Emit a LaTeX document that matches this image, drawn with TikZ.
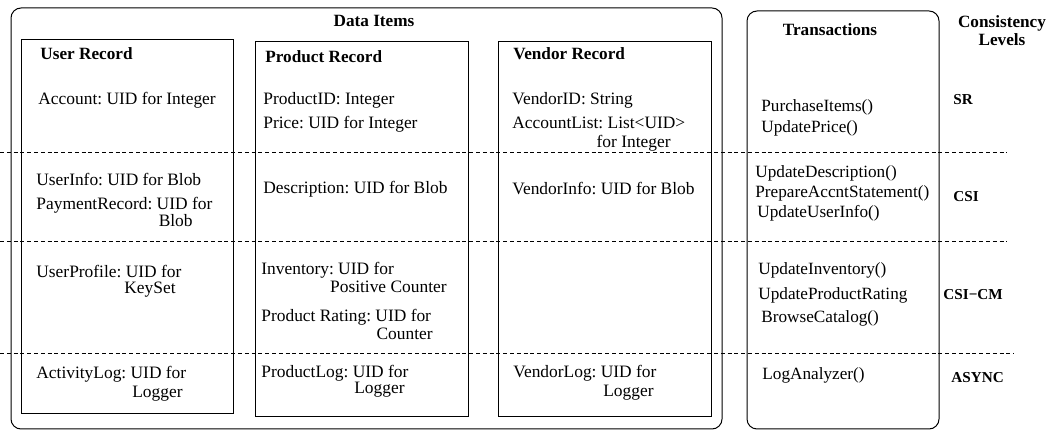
\documentclass[tikz,border=0pt]{standalone}
\usepackage{fontspec}
\setmainfont{Liberation Serif}
\usepackage{tikz}
\frenchspacing

\begin{document}
\begin{tikzpicture}[x=0.5pt,y=-0.5pt,
  item/.style={anchor=west,inner sep=0pt,font=\fontsize{8.7}{10}\selectfont},
  itemtail/.style={anchor=east,inner sep=0pt,font=\fontsize{8.7}{10}\selectfont},
  head/.style={anchor=west,inner sep=0pt,font=\fontsize{8.6}{10}\selectfont\bfseries},
  colhead/.style={inner sep=0pt,align=center,font=\fontsize{8.6}{9}\selectfont\bfseries},
  call/.style={anchor=west,inner sep=0pt,font=\fontsize{8.6}{10}\selectfont},
  level/.style={anchor=west,inner sep=0pt,font=\fontsize{7.6}{9}\selectfont\bfseries},
  layer/.style={dash pattern=on 2pt off 1.4pt,line width=0.4pt}]
\path[use as bounding box] (0,0) rectangle (1047,431);
% boxes
\draw[rounded corners=5pt,line width=0.5pt] (11,8) rectangle (722,429);
\draw[line width=0.5pt] (21,40) rectangle (233,414);
\draw[line width=0.5pt] (255,42) rectangle (468,417);
\draw[line width=0.5pt] (498,42) rectangle (711,417);
\draw[rounded corners=5pt,line width=0.5pt] (747,11) rectangle (939,429);
% level separators
\draw[layer] (0,152) -- (1007,152);
\draw[layer] (0,241) -- (1007,241);
\draw[layer] (0,353) -- (1014,353);
% headings
\node[colhead] (dataT) at (374,21) {Data Items};
\node[head] (userT) at (40,54) {User Record};
\node[head] (prodT) at (265,57) {Product Record};
\node[head] (vendT) at (513,54) {Vendor Record};
\node[colhead] (transT) at (830,30) {Transactions};
\node[colhead] (levelT) at (1002,31) {Consistency\\Levels};
% user record
\node[item] (acct) at (38,100) {Account: UID for Integer};
\node[item] (uinfo) at (36,180) {UserInfo: UID for Blob};
\node[item] (pay) at (36,205) {PaymentRecord: UID for};
\node[itemtail] (payB) at (193,221) {Blob};
\node[item] (uprof) at (36,272) {UserProfile: UID for};
\node[itemtail] (uprofB) at (176,290) {KeySet};
\node[item] (alog) at (36,374) {ActivityLog: UID for};
\node[itemtail] (alogB) at (183,394) {Logger};
% product record
\node[item] (pid) at (263,100) {ProductID: Integer};
\node[item] (price) at (263,124) {Price: UID for Integer};
\node[item] (pdesc) at (263,189) {Description: UID for Blob};
\node[item] (inv) at (261,270) {Inventory: UID for};
\node[itemtail] (invB) at (447,287) {Positive Counter};
\node[item] (prate) at (261,317) {Product Rating: UID for};
\node[itemtail] (prateB) at (433,334) {Counter};
\node[item] (plog) at (261,373) {ProductLog: UID for};
\node[itemtail] (plogB) at (405,390) {Logger};
% vendor record
\node[item] (vid) at (512,100) {VendorID: String};
\node[item] (alist) at (512,123) {AccountList: List<UID>};
\node[itemtail] (alistB) at (671,143) {for Integer};
\node[item] (vinfo) at (512,189) {VendorInfo: UID for Blob};
\node[item] (vlog) at (513,373) {VendorLog: UID for};
\node[itemtail] (vlogB) at (654,393) {Logger};
% transactions
\node[call] (buy) at (761,107) {PurchaseItems()};
\node[call] (uprice) at (761,128) {UpdatePrice()};
\node[call] (udesc) at (755,173) {UpdateDescription()};
\node[call] (stmt) at (755,193) {PrepareAccntStatement()};
\node[call] (uuser) at (757,213) {UpdateUserInfo()};
\node[call] (uinv) at (758,270) {UpdateInventory()};
\node[call] (urate) at (758,295) {UpdateProductRating};
\node[call] (browse) at (761,318) {BrowseCatalog()};
\node[call] (logan) at (762,375) {LogAnalyzer()};
% consistency levels
\node[level] (sr) at (953,100) {SR};
\node[level] (csi) at (953,197) {CSI};
\node[level] (csicm) at (943,295) {CSI−CM};
\node[level] (async) at (951,378) {ASYNC};
\end{tikzpicture}
\end{document}
